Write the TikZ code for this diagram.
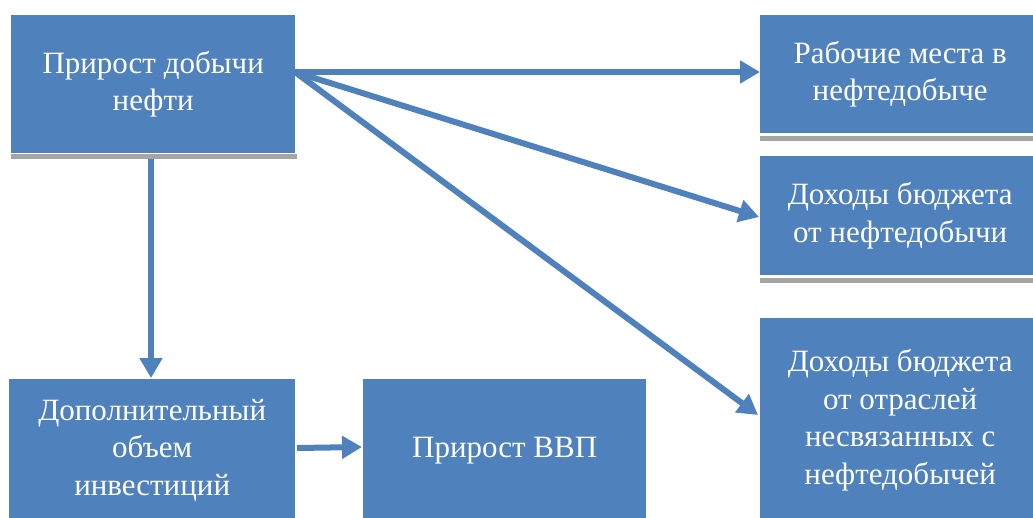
\documentclass[tikz,border=0pt]{standalone}
\usepackage{fontspec}
\setmainfont{Liberation Serif}
\usetikzlibrary{arrows.meta}
\definecolor{boxblue}{HTML}{4F81BD}
\definecolor{shadowgrey}{HTML}{A5A5A5}
\tikzset{
  block/.style={fill=boxblue, draw=none, text=white, align=center,
    font=\fontsize{31}{37.5}\selectfont, inner sep=0pt},
  link/.style={draw=boxblue, line width=6pt,
    -{Triangle[length=20pt,width=22pt]}},
  underbar/.style={fill=shadowgrey, draw=none}
}
\begin{document}
\begin{tikzpicture}[x=1pt,y=-1pt]
\useasboundingbox (0,0) rectangle (1033,517);

% top-left source box
\node[block, minimum width=284pt, minimum height=138pt, anchor=north west]
  (src) at (11,15) {Прирост добычи\\нефти};
\fill[underbar] (11,154) rectangle (297,159);

% right column
\node[block, minimum width=280pt, minimum height=118pt, anchor=north west]
  (jobs) at (760,15) {Рабочие места в\\нефтедобыче};
\fill[underbar] (760,136) rectangle (1040,141);

\node[block, minimum width=280pt, minimum height=119pt, anchor=north west]
  (oilinc) at (760,156) {Доходы бюджета\\от нефтедобычи};
\fill[underbar] (760,278) rectangle (1040,283);

\node[block, minimum width=280pt, minimum height=204pt, anchor=north west]
  (otherinc) at (760,318) {Доходы бюджета\\от отраслей\\несвязанных с\\нефтедобычей};

% bottom row
\node[block, minimum width=286pt, minimum height=142pt, anchor=north west]
  (invest) at (9,379) {Дополнительный\\объем\\инвестиций};
\node[block, minimum width=283pt, minimum height=142pt, anchor=north west]
  (gdp) at (363,379) {Прирост ВВП};

% connector end points
\coordinate (fan) at (295,72);
\coordinate (tjobs) at (760,72);
\coordinate (toil) at (759,217);
\coordinate (tother) at (758,415);
\coordinate (down0) at (151,159);
\coordinate (down1) at (151,378);
\coordinate (right0) at (297,448);
\coordinate (right1) at (362,447);

\draw[link] (fan) -- (tjobs);
\draw[link] (fan) -- (toil);
\draw[link] (fan) -- (tother);
\draw[link] (down0) -- (down1);
\draw[link] (right0) -- (right1);
\end{tikzpicture}
\end{document}
